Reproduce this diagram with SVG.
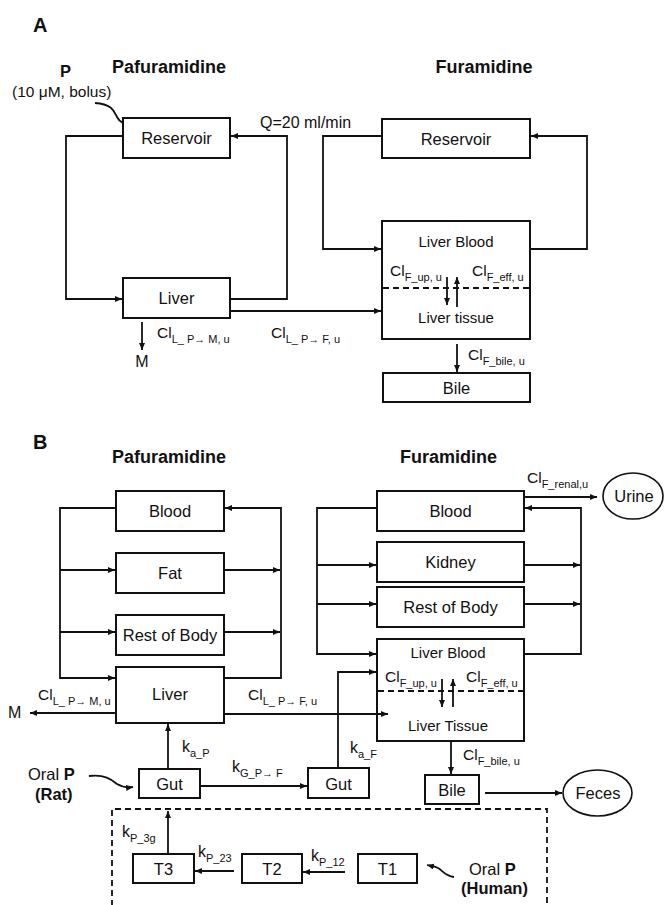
<svg xmlns="http://www.w3.org/2000/svg" width="664" height="905" viewBox="0 0 664 905">
<style>
text{font-family:"Liberation Sans",Arial,sans-serif;fill:#111}
.box{fill:#fff;stroke:#111;stroke-width:2}
.ell{fill:#fff;stroke:#111;stroke-width:1.6}
.bl{font-size:16.5px;text-anchor:middle}
.il{font-size:15px;text-anchor:middle}
.hd{font-size:18px;font-weight:bold}
.pl{font-size:20px;font-weight:bold}
.lab{font-size:15.5px}
.kl{font-size:16px}
.sub{font-size:11px}
.t{font-size:16.5px}
.b{font-weight:bold}
.c{fill:none;stroke:#111;stroke-width:1.8}
.a{marker-end:url(#ah)}
.dash{fill:none;stroke:#111;stroke-width:1.8;stroke-dasharray:6,4}
</style>
<defs>
<marker id="ah" markerUnits="userSpaceOnUse" markerWidth="8" markerHeight="7" refX="7" refY="3" orient="auto"><path d="M0,0 L7,3 L0,6 z" fill="#111"/></marker>
</defs>

<g id="titles">
<text class="pl" x="33" y="32">A</text>
<text class="hd" x="112" y="73">Pafuramidine</text>
<text class="hd" x="484" y="73" text-anchor="middle">Furamidine</text>
<text class="pl" x="33" y="449">B</text>
<text class="hd" x="112" y="463">Pafuramidine</text>
<text class="hd" x="400" y="463">Furamidine</text>
</g>

<g id="connectors">
<!-- Panel A -->
<path class="c a" d="M95,103 C112,104 114,111 117,117 C120,123 125,125 133,125"/>
<path class="c a" d="M123,136 H66 V299 H122"/>
<path class="c a" d="M230,299 H287 V136 H231"/>
<path class="c a" d="M230,311 H381"/>
<path class="c a" d="M142,322 V350"/>
<path class="c a" d="M382,136 H323 V249 H381"/>
<path class="c a" d="M530,249 H587 V136 H531"/>
<path class="dash" d="M383,288 H529"/>
<path class="c a" d="M447,277 V305"/>
<path class="c a" d="M457,307 V277"/>
<path class="c a" d="M457,344 V372"/>
<!-- Panel B Pafuramidine -->
<path class="c a" d="M116,508 H60 V678 H115"/>
<path class="c a" d="M60,570 H115"/>
<path class="c a" d="M60,632 H115"/>
<path class="c a" d="M224,678 H281 V508 H225"/>
<path class="c a" d="M224,570 H280"/>
<path class="c a" d="M224,632 H280"/>
<path class="c a" d="M116,713 H30"/>
<path class="c a" d="M224,714 H388"/>
<path class="c a" d="M168,769 V724"/>
<path class="c a" d="M89,776 C105,774 112,780 117,784 C122,787 126,788 133,787"/>
<path class="c a" d="M200,786 H307"/>
<path class="c a" d="M338,768 V672 H376"/>
<!-- Panel B Furamidine -->
<path class="c a" d="M377,508 H317 V654 H376"/>
<path class="c a" d="M317,565 H376"/>
<path class="c a" d="M317,604 H376"/>
<path class="c a" d="M524,654 H581 V508 H525"/>
<path class="c a" d="M524,565 H580"/>
<path class="c a" d="M524,604 H580"/>
<path class="c a" d="M524,497 H597"/>
<path class="dash" d="M378,691 H523"/>
<path class="c a" d="M442,679 V707"/>
<path class="c a" d="M453,707 V679"/>
<path class="c a" d="M451,741 V774"/>
<path class="c a" d="M485,793 H562"/>
<!-- Human -->
<path class="dash" d="M112,906 V809 H547 V906"/>
<path class="c a" d="M168,853 V811"/>
<path class="c a" d="M234,871 H195"/>
<path class="c a" d="M345,872 H303"/>
<path class="c a" d="M454,877 C445,876 442,870 438,868 C434,866 431,866 427,865"/>
</g>

<g id="labels">
<text class="t" x="60" y="77" font-weight="bold">P</text>
<text x="12" y="97" font-size="15.5">(10 μM, bolus)</text>
<text x="260" y="128" font-size="16">Q=20 ml/min</text>
<text x="142" y="367" font-size="16" text-anchor="middle">M</text>
<text class="lab" x="157" y="338">Cl<tspan class="sub" dy="5">L_ P→ M, u</tspan></text>
<text class="lab" x="271" y="338">Cl<tspan class="sub" dy="5">L_ P→ F, u</tspan></text>
<text class="lab" x="390" y="276">Cl<tspan class="sub" dy="5">F_up, u</tspan></text>
<text class="lab" x="472" y="276">Cl<tspan class="sub" dy="5">F_eff, u</tspan></text>
<text class="lab" x="468" y="360">Cl<tspan class="sub" dy="5">F_bile, u</tspan></text>

<text x="8" y="718" font-size="16">M</text>
<text class="lab" x="38" y="700">Cl<tspan class="sub" dy="5">L_ P→ M, u</tspan></text>
<text class="lab" x="248" y="700">Cl<tspan class="sub" dy="5">L_ P→ F, u</tspan></text>
<text class="kl" x="182" y="752">k<tspan class="sub" dy="5">a_P</tspan></text>
<text class="kl" x="232" y="772">k<tspan class="sub" dy="5">G_P→ F</tspan></text>
<text class="kl" x="350" y="753">k<tspan class="sub" dy="5">a_F</tspan></text>
<text class="t" x="28" y="780">Oral <tspan class="b">P</tspan></text>
<text class="t b" x="35" y="800">(Rat)</text>
<text class="lab" x="527" y="483">Cl<tspan class="sub" dy="5">F_renal,u</tspan></text>
<text class="lab" x="385" y="682">Cl<tspan class="sub" dy="5">F_up, u</tspan></text>
<text class="lab" x="466" y="682">Cl<tspan class="sub" dy="5">F_eff, u</tspan></text>
<text class="lab" x="463" y="760">Cl<tspan class="sub" dy="5">F_bile, u</tspan></text>
<text class="kl" x="122" y="837">k<tspan class="sub" dy="5">P_3g</tspan></text>
<text class="kl" x="198" y="857">k<tspan class="sub" dy="5">P_23</tspan></text>
<text class="kl" x="311" y="861">k<tspan class="sub" dy="5">P_12</tspan></text>
<text class="t" x="469" y="875">Oral <tspan class="b">P</tspan></text>
<text class="t b" x="461" y="894">(Human)</text>
</g>

<!-- Panel A nodes -->
<g id="A-reservoir-p"><rect class="box" x="123" y="118" width="107" height="40"/><text class="bl" x="176.5" y="144">Reservoir</text></g>
<g id="A-liver-p"><rect class="box" x="123" y="278" width="107" height="40"/><text class="bl" x="176.5" y="304">Liver</text></g>
<g id="A-reservoir-f"><rect class="box" x="382" y="119" width="148" height="39"/><text class="bl" x="456" y="145">Reservoir</text></g>
<g id="A-liver-f"><rect class="box" x="382" y="221" width="148" height="118" fill-opacity="0"/><text class="il" x="456" y="247">Liver Blood</text><text class="il" x="456" y="323">Liver tissue</text></g>
<g id="A-bile"><rect class="box" x="383" y="373" width="147" height="29"/><text class="bl" x="456.5" y="394">Bile</text></g>

<!-- Panel B Pafuramidine nodes -->
<g id="B-blood-p"><rect class="box" x="116" y="491" width="108" height="40"/><text class="bl" x="170" y="517">Blood</text></g>
<g id="B-fat-p"><rect class="box" x="116" y="553" width="108" height="40"/><text class="bl" x="170" y="579">Fat</text></g>
<g id="B-rest-p"><rect class="box" x="116" y="615" width="108" height="40"/><text class="bl" x="170" y="641">Rest of Body</text></g>
<g id="B-liver-p"><rect class="box" x="116" y="667" width="108" height="56"/><text class="bl" x="170" y="700">Liver</text></g>
<g id="B-gut-rat"><rect class="box" x="139" y="769" width="61" height="29"/><text class="bl" x="169.5" y="790">Gut</text></g>
<g id="B-gut-f"><rect class="box" x="308" y="768" width="61" height="30"/><text class="bl" x="338.5" y="790">Gut</text></g>

<!-- Panel B Furamidine nodes -->
<g id="B-blood-f"><rect class="box" x="377" y="491" width="147" height="40"/><text class="bl" x="450.5" y="517">Blood</text></g>
<g id="B-kidney-f"><rect class="box" x="377" y="542" width="147" height="40"/><text class="bl" x="450.5" y="568">Kidney</text></g>
<g id="B-rest-f"><rect class="box" x="377" y="587" width="147" height="40"/><text class="bl" x="450.5" y="613">Rest of Body</text></g>
<g id="B-liver-f"><rect class="box" x="377" y="639" width="147" height="102" fill-opacity="0"/><text class="il" x="448" y="658">Liver Blood</text><text class="il" x="448" y="731">Liver Tissue</text></g>
<g id="B-bile"><rect class="box" x="425" y="775" width="54" height="29"/><text class="bl" x="452" y="796">Bile</text></g>
<g id="B-urine"><ellipse class="ell" cx="633" cy="496" rx="30" ry="23"/><text class="bl" x="634" y="502">Urine</text></g>
<g id="B-feces"><ellipse class="ell" cx="597.5" cy="793" rx="34.5" ry="23"/><text class="bl" x="598" y="799">Feces</text></g>

<!-- Human GI transit -->
<g id="B-T3"><rect class="box" x="133" y="854" width="61" height="29"/><text class="bl" x="163.5" y="875">T3</text></g>
<g id="B-T2"><rect class="box" x="242" y="854" width="60" height="29"/><text class="bl" x="272" y="875">T2</text></g>
<g id="B-T1"><rect class="box" x="358" y="854" width="59" height="29"/><text class="bl" x="387.5" y="875">T1</text></g>
</svg>
